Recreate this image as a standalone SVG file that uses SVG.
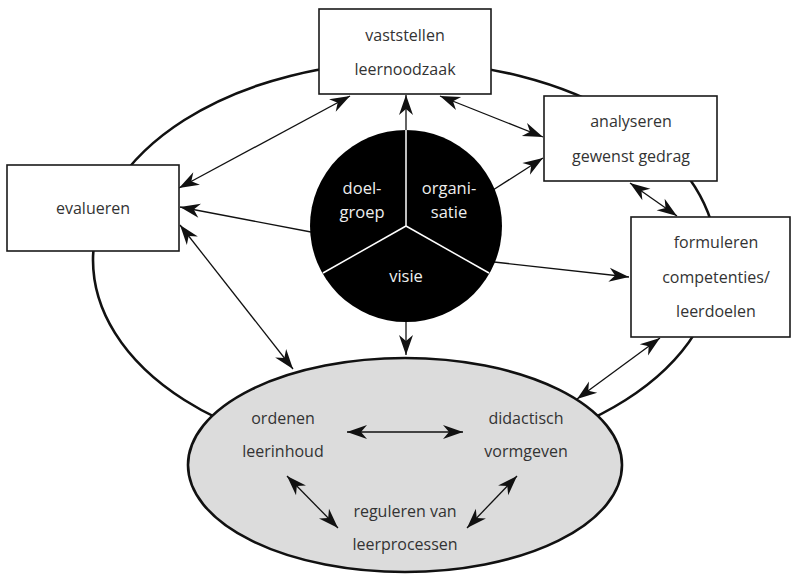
<svg xmlns="http://www.w3.org/2000/svg" width="792" height="575" viewBox="0 0 792 575">
<defs>
<style>
.box{fill:#fff;stroke:#1a1a1a;stroke-width:1.6}
.t{font-family:"Open Sans","Liberation Sans",sans-serif;font-size:16px;fill:#333;text-anchor:middle}
.w{font-family:"Open Sans","Liberation Sans",sans-serif;font-size:16.5px;fill:#eee;text-anchor:middle}
.c{fill:none;stroke:#111;stroke-width:1.3}
</style>
<marker id="ah" markerUnits="userSpaceOnUse" viewBox="-22 -8 24 16" refX="0" refY="0" markerWidth="24" markerHeight="16" orient="auto-start-reverse">
<path d="M0,0 L-20,-7 L-14,0 L-20,7 Z" fill="#111"/>
</marker>
</defs>
<g id="cycle">
<ellipse cx="405" cy="260" rx="312" ry="198" fill="none" stroke="#111" stroke-width="2.6"/>
</g>
<g id="connectors">
<line class="c" x1="179" y1="188" x2="350" y2="96" marker-start="url(#ah)" marker-end="url(#ah)"/>
<line class="c" x1="311" y1="232" x2="180" y2="207" marker-end="url(#ah)"/>
<line class="c" x1="180" y1="225" x2="293" y2="369" marker-start="url(#ah)" marker-end="url(#ah)"/>
<line class="c" x1="406" y1="130" x2="406" y2="95" marker-end="url(#ah)"/>
<line class="c" x1="406" y1="322" x2="406" y2="355" marker-end="url(#ah)"/>
<line class="c" x1="440" y1="96" x2="543" y2="137" marker-start="url(#ah)" marker-end="url(#ah)"/>
<line class="c" x1="493" y1="190" x2="543" y2="158" marker-end="url(#ah)"/>
<line class="c" x1="494" y1="262" x2="629" y2="277" marker-end="url(#ah)"/>
<line class="c" x1="630" y1="183" x2="677" y2="216" marker-start="url(#ah)" marker-end="url(#ah)"/>
<line class="c" x1="660" y1="338" x2="577" y2="399" marker-start="url(#ah)" marker-end="url(#ah)"/>
</g>
<g id="vaststellen">
<rect class="box" x="319" y="9" width="172" height="85"/>
<text class="t" x="405" y="41">vaststellen</text>
<text class="t" x="405" y="75">leernoodzaak</text>
</g>
<g id="analyseren">
<rect class="box" x="544" y="96" width="173" height="85"/>
<text class="t" x="631" y="127">analyseren</text>
<text class="t" x="631" y="162">gewenst gedrag</text>
</g>
<g id="formuleren">
<rect class="box" x="631" y="217" width="159" height="120"/>
<text class="t" x="716" y="248">formuleren</text>
<text class="t" x="716" y="283">competenties/</text>
<text class="t" x="716" y="317">leerdoelen</text>
</g>
<g id="evalueren">
<rect class="box" x="7" y="165" width="172" height="86"/>
<text class="t" x="93" y="214">evalueren</text>
</g>
<g id="kern">
<circle cx="406" cy="226" r="96" fill="#000"/>
<line x1="406" y1="226" x2="406" y2="130" stroke="#fff" stroke-width="1.5"/>
<line x1="406" y1="226" x2="323" y2="273" stroke="#fff" stroke-width="1.5"/>
<line x1="406" y1="226" x2="489" y2="273" stroke="#fff" stroke-width="1.5"/>
<text class="w" x="362" y="194">doel-</text>
<text class="w" x="362" y="218">groep</text>
<text class="w" x="449" y="194">organi-</text>
<text class="w" x="449" y="218">satie</text>
<text class="w" x="406" y="282">visie</text>
</g>
<g id="ontwerp">
<ellipse cx="405" cy="465" rx="217" ry="107" fill="#dcdcdc" stroke="#111" stroke-width="2.6"/>
<text class="t" x="283" y="424">ordenen</text>
<text class="t" x="283" y="457">leerinhoud</text>
<text class="t" x="526" y="424">didactisch</text>
<text class="t" x="526" y="457">vormgeven</text>
<text class="t" x="405" y="517">reguleren van</text>
<text class="t" x="405" y="550">leerprocessen</text>
<line class="c" x1="347" y1="432" x2="463" y2="432" marker-start="url(#ah)" marker-end="url(#ah)"/>
<line class="c" x1="287" y1="476" x2="338" y2="528" marker-start="url(#ah)" marker-end="url(#ah)"/>
<line class="c" x1="517" y1="476" x2="467" y2="528" marker-start="url(#ah)" marker-end="url(#ah)"/>
</g>
</svg>
